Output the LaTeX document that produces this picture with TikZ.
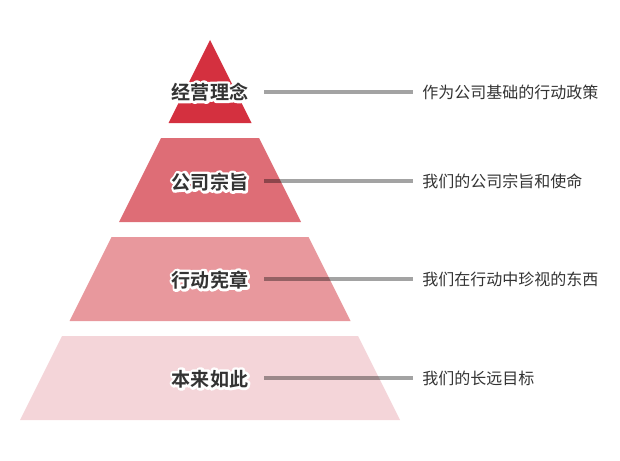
\documentclass[tikz,border=0pt]{standalone}
\usepackage{fontspec}
\newfontfamily\cjk{Noto Sans CJK SC}
\newfontfamily\cjkb{Noto Sans CJK SC Bold}
\definecolor{tierA}{HTML}{D4303F}
\definecolor{tierB}{HTML}{DE6D76}
\definecolor{tierC}{HTML}{E8989D}
\definecolor{tierD}{HTML}{F4D5D9}
\definecolor{ink}{HTML}{333333}
\tikzset{
  lab/.style={font=\cjkb\fontsize{14.3}{17}\selectfont, text=ink, inner sep=0pt},
  desc/.style={font=\cjk\fontsize{12}{14}\selectfont, text=ink, anchor=west, inner xsep=6.75pt, inner ysep=0pt},
  conn/.style={draw=black, draw opacity=0.36, line width=2.5pt},
}
\newcommand{\outlined}[1]{\special{pdf:literal direct 1 1 1 RG 4 w 1 j 1 Tr}#1\special{pdf:literal direct 0 Tr}}
\newcommand{\halolabel}[3]{%
  \path (#2) node[lab,text=white] {\outlined{#3}};
  \node[lab] (#1) at (#2) {#3};
}
\begin{document}
\begin{tikzpicture}[x=0.75pt,y=-0.75pt]
\useasboundingbox (0,0) rectangle (620,460);
% pyramid tiers
\fill[tierA] (210,40) -- (251.5,123) -- (168.5,123) -- cycle;
\fill[tierB] (161,138) -- (259,138) -- (301,222) -- (119,222) -- cycle;
\fill[tierC] (111.5,237) -- (308.5,237) -- (350.5,321) -- (69.5,321) -- cycle;
\fill[tierD] (62,336) -- (358,336) -- (400,420) -- (20,420) -- cycle;
% connectors
\coordinate (s1) at (264,92);
\coordinate (s2) at (264,181);
\coordinate (s3) at (264,279);
\coordinate (s4) at (264,378);
\node[desc] (d1) at (413,92) {作为公司基础的行动政策};
\node[desc] (d2) at (413,181) {我们的公司宗旨和使命};
\node[desc] (d3) at (413,279) {我们在行动中珍视的东西};
\node[desc] (d4) at (413,378) {我们的长远目标};
\draw[conn] (s1) -- (d1.west);
\draw[conn] (s2) -- (d2.west);
\draw[conn] (s3) -- (d3.west);
\draw[conn] (s4) -- (d4.west);
% labels
\halolabel{l1}{210,92}{经营理念}
\halolabel{l2}{210,182}{公司宗旨}
\halolabel{l3}{210,280}{行动宪章}
\halolabel{l4}{210,379}{本来如此}
\end{tikzpicture}
\end{document}
